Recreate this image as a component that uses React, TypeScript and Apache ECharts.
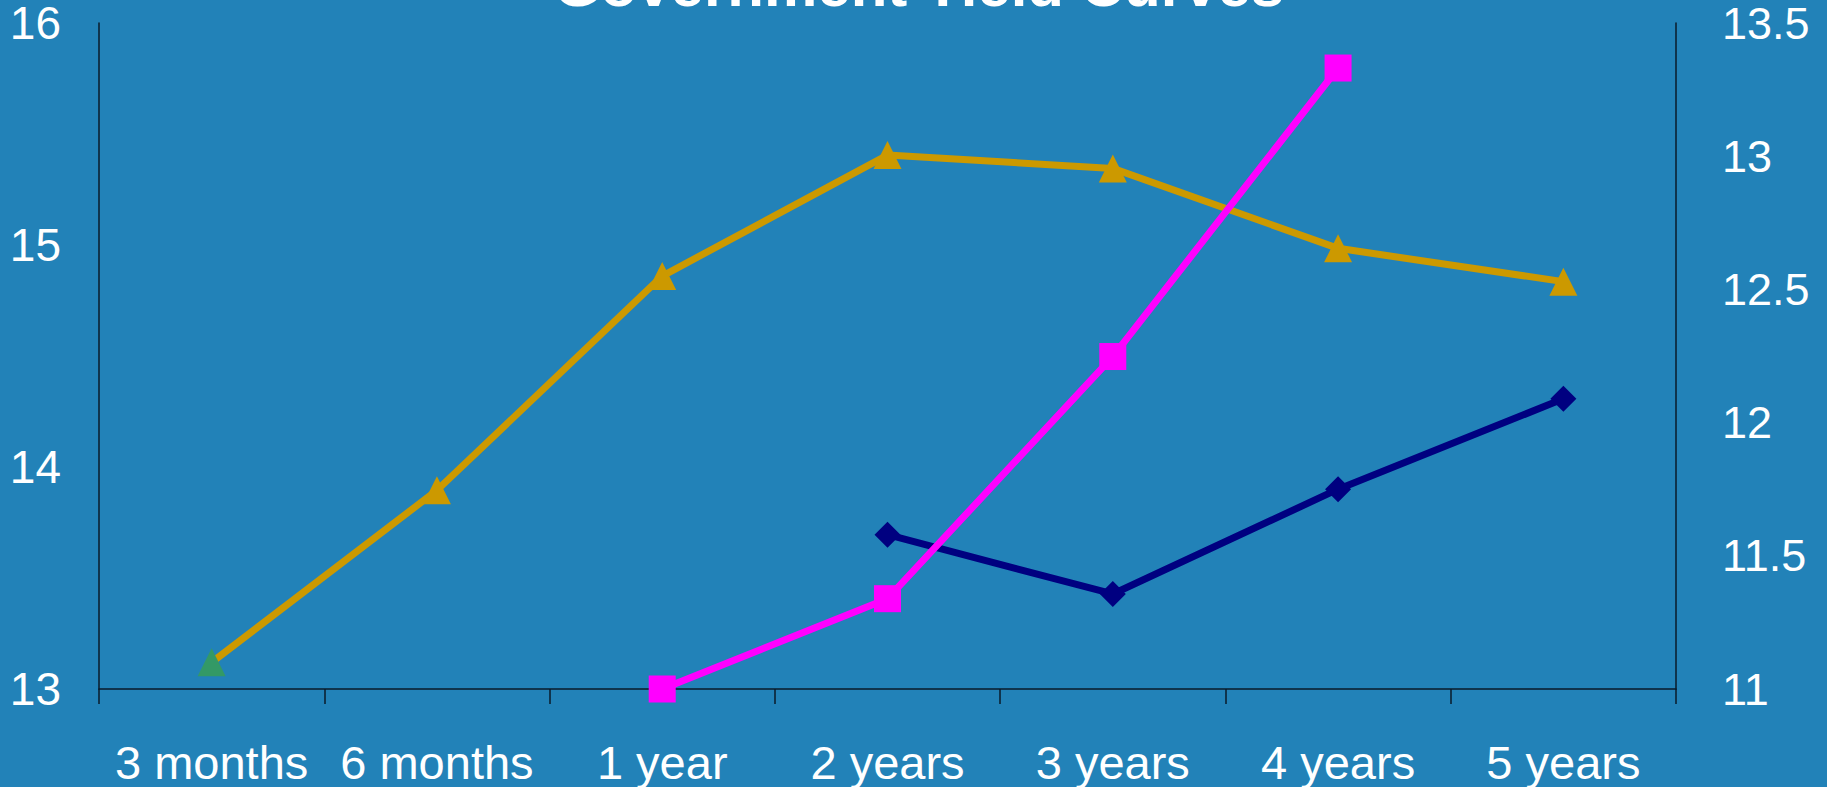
import React, { useEffect, useRef } from "react";
import * as echarts from "echarts";

// Maturities along the curve
const maturities = ["3 months", "6 months", "1 year", "2 years", "3 years", "4 years", "5 years"];

// Yields (%) – left scale
const curveGold = [13.12, 13.895, 14.86, 15.405, 15.345, 14.985, 14.835];
const curveNavy = [null, null, null, 13.695, 13.428, 13.9, 14.307];

// Yields (%) – right scale
const curvePink = [null, null, 11.0, 11.339, 12.248, 13.331, null];

const FONT = '"Liberation Sans", Arial, sans-serif';
const BG = "#2282B8";

export default function App() {
  const ref = useRef<HTMLDivElement>(null);

  useEffect(() => {
    document.body.style.margin = "0";
    const chart = echarts.init(ref.current!, null, { renderer: "svg" });
    chart.setOption({
      animation: false,
      backgroundColor: BG,
      textStyle: { fontFamily: FONT },
      graphic: [
        {
          type: "text",
          x: 919,
          y: -15,
          style: {
            text: "Government Yield Curves",
            fill: "#ffffff",
            font: `bold 60px ${FONT}`,
            textAlign: "center",
            textVerticalAlign: "middle",
          },
        },
      ],
      grid: {
        left: 99,
        right: 151,
        top: 23,
        bottom: 98,
        containLabel: false,
        outerBoundsMode: "none",
      },
      xAxis: {
        type: "category",
        data: maturities,
        boundaryGap: true,
        axisLine: { show: true, lineStyle: { color: "#0a1a2a", width: 1.5 } },
        axisTick: { show: true, length: 15, lineStyle: { color: "#0a1a2a", width: 1.5 } },
        axisLabel: {
          color: "#ffffff",
          fontSize: 47,
          lineHeight: 40,
          fontFamily: FONT,
          margin: 53,
          interval: 0,
        },
        splitLine: { show: false },
      },
      yAxis: [
        {
          type: "value",
          min: 13,
          max: 16,
          interval: 1,
          position: "left",
          axisLine: { show: true, lineStyle: { color: "#0a1a2a", width: 1.5 } },
          axisTick: { show: false },
          splitLine: { show: false },
          axisLabel: {
            color: "#ffffff",
            fontSize: 46,
            lineHeight: 40,
            padding: [16, 0, 0, 0],
            fontFamily: FONT,
            margin: 38,
          },
        },
        {
          type: "value",
          min: 11,
          max: 13.5,
          interval: 0.5,
          position: "right",
          axisLine: { show: true, lineStyle: { color: "#0a1a2a", width: 1.5 } },
          axisTick: { show: false },
          splitLine: { show: false },
          axisLabel: {
            color: "#ffffff",
            fontSize: 45,
            lineHeight: 40,
            padding: [16, 0, 0, 0],
            fontFamily: FONT,
            margin: 46,
          },
        },
      ],
      series: [
        {
          type: "line",
          yAxisIndex: 0,
          data: curveGold.map((v, i) =>
            i === 0 ? { value: v, itemStyle: { color: "#339966" } } : v
          ),
          symbol: "triangle",
          symbolSize: 28,
          showAllSymbol: true,
          itemStyle: { color: "#CC9900" },
          lineStyle: { color: "#CC9900", width: 7 },
          z: 2,
        },
        {
          type: "line",
          yAxisIndex: 0,
          data: curveNavy,
          symbol: "diamond",
          symbolSize: 26,
          showAllSymbol: true,
          itemStyle: { color: "#000080" },
          lineStyle: { color: "#000080", width: 7 },
          z: 3,
        },
        {
          type: "line",
          yAxisIndex: 1,
          data: curvePink,
          symbol: "rect",
          symbolSize: 27,
          showAllSymbol: true,
          itemStyle: { color: "#FF00FF" },
          lineStyle: { color: "#FF00FF", width: 7 },
          z: 4,
        },
      ],
    });
    return () => chart.dispose();
  }, []);

  return <div ref={ref} style={{ width: 1827, height: 787 }} />;
}
